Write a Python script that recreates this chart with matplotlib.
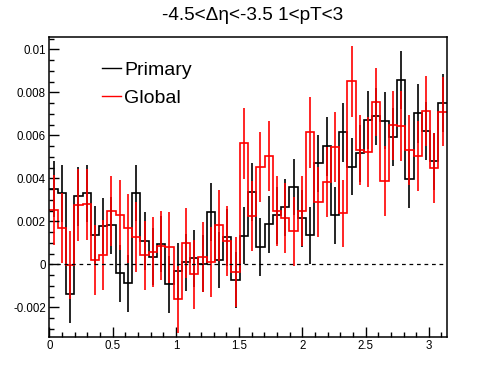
import numpy as np
import matplotlib
matplotlib.use("Agg")
import matplotlib.pyplot as plt
from matplotlib.lines import Line2D
from matplotlib.ticker import MultipleLocator, FuncFormatter

plt.rcParams['font.family'] = ['Liberation Sans', 'DejaVu Sans']

# 48 bins in delta-phi from 0 to pi
edges = np.linspace(0, np.pi, 49)

primary = [0.0035, 0.0033, -0.0014, 0.00316, 0.0033, 0.00135, 0.00177, 0.00182, -0.00042, -0.00088,
           0.0033, 0.00108, 0.00036, 0.00093, -0.00093, -0.00033, 0.00009, 0.00028, 0.00003, 0.00243,
           0.0002, 0.00126, -0.00074, 0.00132, 0.00335, 0.00079, 0.00186, 0.00228, 0.00265, 0.0036,
           0.00214, 0.00135, 0.0047, 0.00549, 0.00228, 0.00614, 0.00453, 0.00516, 0.00671, 0.00688,
           0.00667, 0.00591, 0.00857, 0.00395, 0.00702, 0.0062, 0.00479, 0.0075]
primary_err = [0.00129, 0.00133, 0.00135, 0.00138, 0.00133, 0.00136, 0.0013, 0.00132, 0.00132, 0.00132,
               0.0013, 0.00136, 0.00132, 0.00131, 0.00132, 0.00131, 0.00133, 0.00133, 0.00132, 0.00133,
               0.0013, 0.00133, 0.0013, 0.00133, 0.00134, 0.00134, 0.00132, 0.00133, 0.00134, 0.0013,
               0.00133, 0.00133, 0.00133, 0.00136, 0.00133, 0.00136, 0.00133, 0.00134, 0.00135, 0.00134,
               0.00133, 0.00135, 0.00135, 0.00134, 0.00136, 0.00135, 0.00134, 0.00135]

global_ = [0.00253, 0.00167, -0.00005, 0.00274, 0.00279, 0.0002, 0.00042, 0.00248, 0.00229, 0.00167,
           0.00126, 0.00042, 0.00059, 0.00087, 0.00079, -0.00163, 0.00098, -0.00047, 0.00033, 0.00009,
           0.00181, 0.00109, -0.00037, 0.00563, 0.00223, 0.00453, 0.00502, 0.00247, 0.00214, 0.00153,
           0.00247, 0.00614, 0.00288, 0.00381, 0.00544, 0.00237, 0.00851, 0.0053, 0.00521, 0.00755,
           0.00386, 0.00647, 0.00642, 0.0053, 0.00502, 0.00712, 0.00447, 0.00709]
global_err = [0.00163, 0.00163, 0.00158, 0.00168, 0.00165, 0.00162, 0.00163, 0.00164, 0.00163, 0.00162,
              0.00163, 0.00161, 0.00163, 0.00162, 0.00164, 0.00155, 0.00163, 0.00162, 0.00163, 0.00163,
              0.00164, 0.00163, 0.00162, 0.00166, 0.00163, 0.00163, 0.00163, 0.00163, 0.00163, 0.00162,
              0.00163, 0.00164, 0.00163, 0.00163, 0.00163, 0.00157, 0.00164, 0.00163, 0.00163, 0.00158,
              0.00163, 0.00160, 0.00163, 0.00163, 0.00163, 0.00164, 0.00163, 0.00160]

title = "-4.5<\u0394\u03b7<-3.5 1<pT<3"

fig = plt.figure(figsize=(4.96, 3.74), dpi=100)
W, H = 496, 374
ax = fig.add_axes([49.4 / W, (H - 336.7) / H, (446.7 - 49.4) / W, (336.7 - 37.3) / H])

centers = 0.5 * (edges[:-1] + edges[1:])

# primary (black) then global (red) on top
ax.stairs(primary, edges, color='black', lw=1.2, baseline=None)
ax.errorbar(centers, primary, yerr=primary_err, fmt='none', ecolor='black', elinewidth=1.2)
ax.stairs(global_, edges, color='red', lw=1.2, baseline=None)
ax.errorbar(centers, global_, yerr=global_err, fmt='none', ecolor='red', elinewidth=1.2)

ax.axhline(0, color='black', lw=0.9, ls=(0, (3, 3)))

ax.set_xlim(0, np.pi)
ax.set_ylim(-0.00337, 0.01056)

ax.xaxis.set_major_locator(MultipleLocator(0.5))
ax.xaxis.set_minor_locator(MultipleLocator(0.1))
ax.yaxis.set_major_locator(MultipleLocator(0.002))
ax.yaxis.set_minor_locator(MultipleLocator(0.0005))
fmt = FuncFormatter(lambda v, p: '%g' % round(v, 6))
ax.xaxis.set_major_formatter(fmt)
ax.yaxis.set_major_formatter(fmt)

ax.tick_params(which='both', direction='in', top=False, right=False, labelsize=8.3, width=1)
ax.tick_params(which='major', length=7, pad=2.5)
ax.tick_params(which='minor', length=3.6)
for s in ax.spines.values():
    s.set_linewidth(1.1)

fig.text(253 / W, 1 - 15 / H, title, ha='center', va='center', fontsize=13.7)

handles = [Line2D([], [], color='black', lw=1), Line2D([], [], color='red', lw=1)]
ax.legend(handles, ['Primary', 'Global'], loc='upper left', frameon=False,
          fontsize=14, handlelength=1.0, handletextpad=0.15, labelspacing=0.55,
          borderaxespad=0, borderpad=0,
          bbox_to_anchor=(101.7 / W, 1 - 61 / H), bbox_transform=fig.transFigure)

fig.savefig('out.png', dpi=100)
